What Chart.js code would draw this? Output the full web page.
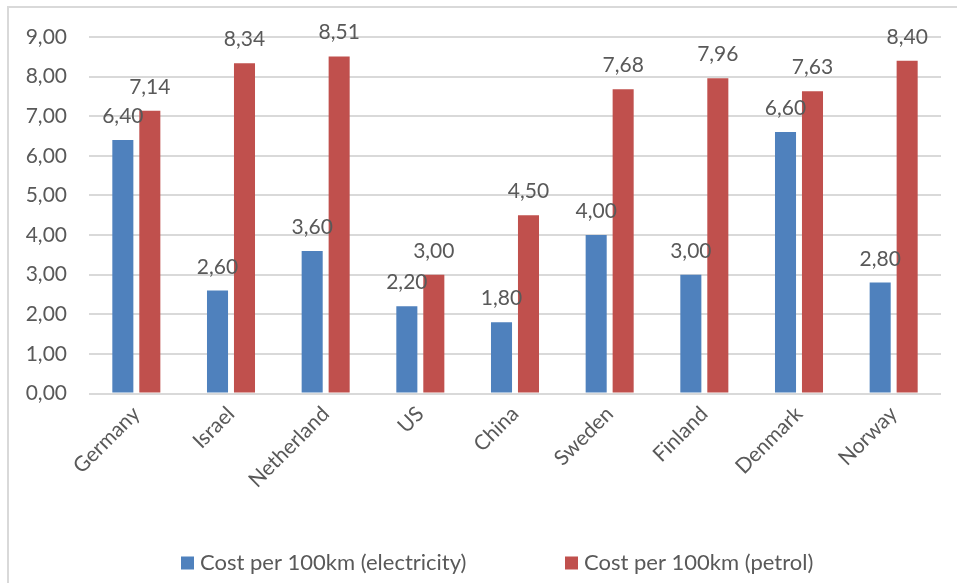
<!DOCTYPE html>
<html>
<head>
<meta charset="utf-8">
<script src="https://cdn.jsdelivr.net/npm/chart.js@4/dist/chart.umd.min.js"></script>
<style>
  html, body { margin: 0; padding: 0; background: #ffffff; }
  #wrap { position: relative; width: 957px; height: 583px; }
</style>
</head>
<body>
<div id="wrap"><canvas id="c" width="957" height="583"></canvas></div>
<script>
// Countries on the x axis
const countries = ['Germany', 'Israel', 'Netherland', 'US', 'China', 'Sweden', 'Finland', 'Denmark', 'Norway'];

// Cost per 100 km for each country
const electricityCost = [6.40, 2.60, 3.60, 2.20, 1.80, 4.00, 3.00, 6.60, 2.80];
const petrolCost = [7.14, 8.34, 8.51, 3.00, 4.50, 7.68, 7.96, 7.63, 8.40];

// Series names
const seriesNames = ['Cost per 100km (electricity)', 'Cost per 100km (petrol)'];

// Value axis range
const yMin = 0;
const yMax = 9;
const yStep = 1;

const FONT = 'Lato, "Open Sans", sans-serif';
const TEXT = '#595959';
const GRID = '#d9d9d9';
const BLUE = '#4f81bd';
const RED = '#c0504d';

const fmt = v => Number(v).toFixed(2).replace('.', ',');

// Outer frame of the chart
const framePlugin = {
  id: 'frame',
  beforeDraw(chart) {
    const ctx = chart.ctx;
    ctx.save();
    ctx.fillStyle = '#ffffff';
    ctx.fillRect(0, 0, chart.width, chart.height);
    ctx.strokeStyle = GRID;
    ctx.lineWidth = 2;
    ctx.strokeRect(8, 7, chart.width + 20, chart.height + 20);
    ctx.restore();
  }
};

// Value labels above every bar
const valueLabels = {
  id: 'valueLabels',
  afterDatasetsDraw(chart) {
    const ctx = chart.ctx;
    ctx.save();
    ctx.font = '21px ' + FONT;
    ctx.fillStyle = TEXT;
    ctx.textAlign = 'center';
    ctx.textBaseline = 'alphabetic';
    chart.data.datasets.forEach((ds, di) => {
      chart.getDatasetMeta(di).data.forEach((bar, i) => {
        ctx.fillText(fmt(ds.data[i]), bar.x, bar.y - 17);
      });
    });
    ctx.restore();
  }
};

// Legend row at the bottom
const bottomLegend = {
  id: 'bottomLegend',
  afterDraw(chart) {
    const ctx = chart.ctx;
    const starts = [181, 565];
    const cy = 563;
    ctx.save();
    ctx.font = '22px ' + FONT;
    ctx.textBaseline = 'middle';
    ctx.textAlign = 'left';
    chart.data.datasets.forEach((ds, i) => {
      const x = starts[i];
      ctx.fillStyle = ds.backgroundColor;
      ctx.fillRect(x, cy - 6.5, 13, 13);
      ctx.fillStyle = TEXT;
      ctx.fillText(ds.label, x + 19, cy);
    });
    ctx.restore();
  }
};

new Chart(document.getElementById('c'), {
  type: 'bar',
  data: {
    labels: countries,
    datasets: [
      { label: seriesNames[0], data: electricityCost, backgroundColor: BLUE },
      { label: seriesNames[1], data: petrolCost, backgroundColor: RED }
    ]
  },
  options: {
    responsive: false,
    animation: false,
    events: [],
    layout: { padding: { top: 37, right: 16, bottom: 0, left: 0 } },
    datasets: {
      bar: { categoryPercentage: 0.57, barPercentage: 0.78 }
    },
    plugins: {
      legend: { display: false },
      tooltip: { enabled: false }
    },
    scales: {
      x: {
        grid: { display: false, drawTicks: false },
        border: { display: false },
        ticks: {
          autoSkip: false,
          minRotation: 45,
          maxRotation: 45,
          padding: 8,
          color: TEXT,
          font: { family: FONT, size: 21 }
        },
        afterFit(scale) { scale.height = 189.5; }
      },
      y: {
        min: yMin,
        max: yMax,
        grid: { color: GRID, lineWidth: 2, drawTicks: false },
        border: { display: false },
        ticks: {
          stepSize: yStep,
          padding: 22,
          color: TEXT,
          font: { family: FONT, size: 21 },
          callback: v => fmt(v)
        },
        afterFit(scale) { scale.width = 89; }
      }
    }
  },
  plugins: [framePlugin, valueLabels, bottomLegend]
});
</script>
</body>
</html>
